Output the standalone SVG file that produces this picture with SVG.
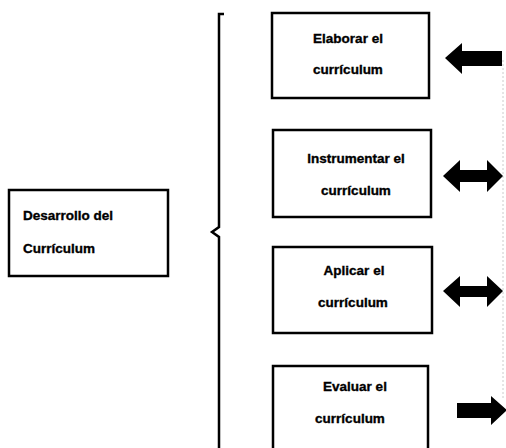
<svg xmlns="http://www.w3.org/2000/svg" width="506" height="448" viewBox="0 0 506 448">
<style>
.box{fill:#fff;stroke:#000;stroke-width:2.5}
.t{font-family:"Liberation Sans",Arial,sans-serif;font-weight:bold;font-size:13.5px;fill:#000;stroke:#000;stroke-width:0.35}
.c{text-anchor:middle}
.arr{fill:#000}
</style>
<rect width="506" height="448" fill="#fff"/>
<g id="connectors">
<path d="M224,14 H219 V227 L212,232 L219,237 V448" fill="none" stroke="#000" stroke-width="2.5"/>
<line x1="503" y1="60" x2="503" y2="400" stroke="#ccc" stroke-width="1" stroke-dasharray="2,2"/>
<polygon class="arr" points="445,58 462,43 462,51 502,51 502,66 462,66 462,74"/>
<polygon class="arr" points="443,176 460,160 460,170 487,170 487,160 503,176 487,192 487,182 460,182 460,192"/>
<polygon class="arr" points="443,291 460,276 460,286 487,286 487,276 503,291 487,307 487,297 460,297 460,307"/>
<polygon class="arr" points="457,403 491,403 491,396 507,410 491,425 491,418 457,418"/>
</g>
<g id="desarrollo">
<rect class="box" x="9" y="190" width="159" height="86"/>
<text class="t" x="23" y="220">Desarrollo del</text>
<text class="t" x="23" y="253">Currículum</text>
</g>
<g id="elaborar">
<rect class="box" x="272" y="13" width="157" height="85"/>
<text class="t c" x="348" y="43">Elaborar el</text>
<text class="t c" x="348" y="74">currículum</text>
</g>
<g id="instrumentar">
<rect class="box" x="273" y="130" width="158" height="87"/>
<text class="t c" x="356" y="163">Instrumentar el</text>
<text class="t c" x="356" y="195">currículum</text>
</g>
<g id="aplicar">
<rect class="box" x="273" y="247" width="159" height="86"/>
<text class="t c" x="354" y="275">Aplicar el</text>
<text class="t c" x="353" y="307">currículum</text>
</g>
<g id="evaluar">
<rect class="box" x="273" y="366" width="155" height="90"/>
<text class="t c" x="355" y="391">Evaluar el</text>
<text class="t c" x="350" y="423">currículum</text>
</g>
</svg>
